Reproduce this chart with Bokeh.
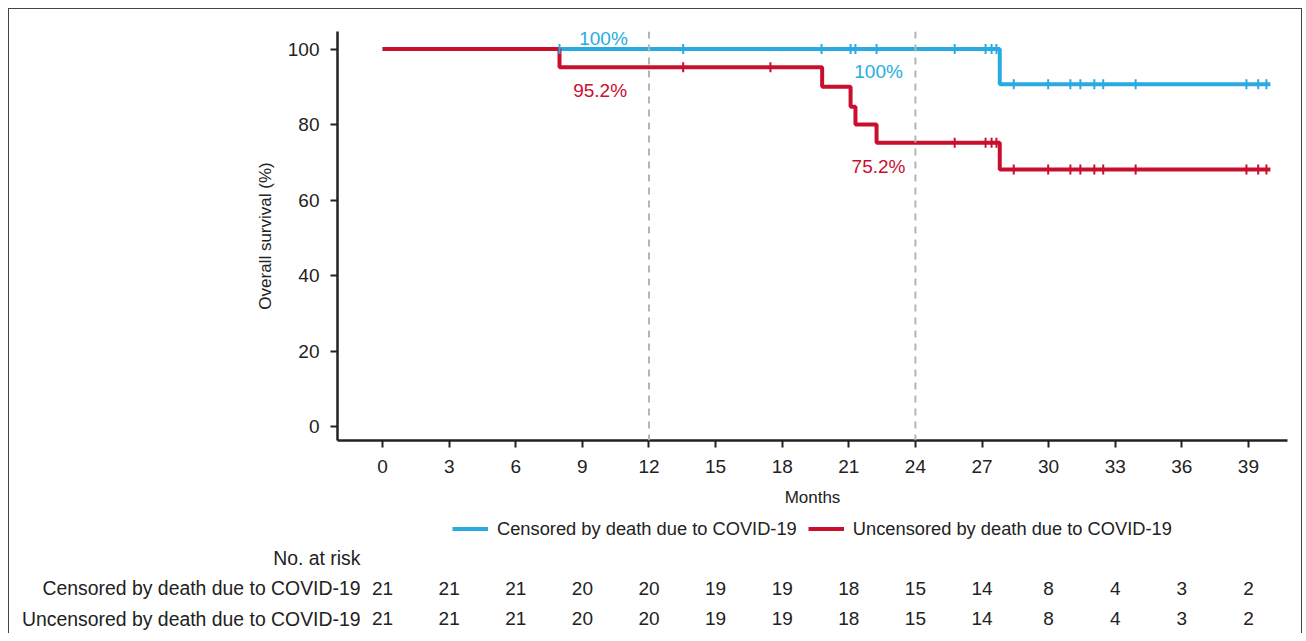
import math
from bokeh.plotting import figure
from bokeh.models import Range1d, Span, Legend, LegendItem, FixedTicker
from bokeh.layouts import column
from bokeh.core.properties import value
from bokeh.embed import file_html
from bokeh.resources import INLINE

# ---------------- data ----------------
month_ticks = [0, 3, 6, 9, 12, 15, 18, 21, 24, 27, 30, 33, 36, 39]
survival_ticks = [0, 20, 40, 60, 80, 100]
series_names = ["Censored by death due to COVID-19", "Uncensored by death due to COVID-19"]

censored_time = [0.0, 27.8, 39.99]
censored_surv = [100.0, 90.7, 90.7]
uncensored_time = [0.0, 7.97, 19.8, 21.08, 21.3, 22.25, 27.8, 39.99]
uncensored_surv = [100.0, 95.2, 90.0, 84.7, 80.0, 75.2, 68.1, 68.1]

censored_marks = [7.97, 13.54, 19.77, 21.08, 21.3, 22.25, 25.77, 27.16, 27.43, 27.65,
                  28.43, 29.98, 30.98, 31.43, 32.06, 32.46, 33.92, 38.91, 39.44, 39.81]
uncensored_marks = [13.54, 17.47, 25.77, 27.16, 27.43, 27.65,
                    28.43, 29.98, 30.98, 31.43, 32.06, 32.46, 33.92, 38.91, 39.44, 39.81]

landmark_months = [12, 24]
censored_ann_text = ["100%", "100%"]
censored_ann_x = [9.95, 22.34]
censored_ann_y = [102.7, 94.0]
uncensored_ann_text = ["95.2%", "75.2%"]
uncensored_ann_x = [9.8, 22.34]
uncensored_ann_y = [89.1, 68.8]

risk_header = "No. at risk"
risk_censored = [21, 21, 21, 20, 20, 19, 19, 18, 15, 14, 8, 4, 3, 2]
risk_uncensored = [21, 21, 21, 20, 20, 19, 19, 18, 15, 14, 8, 4, 3, 2]

# ---------------- style / layout ----------------
BLUE = "#29abe2"
RED = "#c8102e"
INK = "#222222"
FONT = "Liberation Sans"

W = 1292
H1, H2 = 505, 119
FRAME_L, FRAME_R, FRAME_T, FRAME_B = 328, 1278, 22, 431
X0, X1 = -2.03, 40.76
Y0, Y1 = -3.71, 104.65
ROW_PX = 30.5
HEADER_TOP_PX, ROW2_TOP_PX = 43, 104   # px from top of the table panel


def step_at(times, surv, t):
    v = surv[0]
    for ti, si in zip(times, surv):
        if ti <= t:
            v = si
    return v


p = figure(width=W, height=H1, output_backend="svg", toolbar_location=None,
           x_range=Range1d(X0, X1), y_range=Range1d(Y0, Y1),
           min_border_left=FRAME_L, min_border_right=W - FRAME_R,
           min_border_top=FRAME_T, min_border_bottom=H1 - FRAME_B)
p.outline_line_color = None
p.xgrid.grid_line_color = None
p.ygrid.grid_line_color = None

for ax in (p.xaxis[0], p.yaxis[0]):
    ax.axis_line_color = INK
    ax.axis_line_width = 2.5
    ax.major_tick_line_color = INK
    ax.major_tick_line_width = 2
    ax.major_tick_in = 0
    ax.major_tick_out = 7
    ax.minor_tick_line_color = None
    ax.major_label_text_font = FONT
    ax.major_label_text_font_size = "19px"
    ax.major_label_text_color = INK
    ax.axis_label_text_font = FONT
    ax.axis_label_text_font_size = "17px"
    ax.axis_label_text_font_style = "normal"
    ax.axis_label_text_color = INK

p.xaxis.ticker = FixedTicker(ticks=month_ticks)
p.yaxis.ticker = FixedTicker(ticks=survival_ticks)
p.xaxis.axis_label = "Months"
p.yaxis.axis_label = "Overall survival (%)"
p.xaxis.major_label_standoff = 12
p.xaxis.axis_label_standoff = 12
p.yaxis.major_label_standoff = 11
p.yaxis.axis_label_standoff = 10

for m in landmark_months:
    p.add_layout(Span(location=m, dimension="height", line_color="#b5b5b5",
                      line_width=2, line_dash="7 6"))

r_c = p.step(censored_time, censored_surv, mode="after", line_color=BLUE, line_width=4)
r_u = p.step(uncensored_time, uncensored_surv, mode="after", line_color=RED, line_width=4)

p.scatter(censored_marks, [step_at(censored_time, censored_surv, t) for t in censored_marks],
          marker="dash", angle=math.pi / 2, size=10, line_color=BLUE, line_width=2)
p.scatter(uncensored_marks, [step_at(uncensored_time, uncensored_surv, t) for t in uncensored_marks],
          marker="dash", angle=math.pi / 2, size=10, line_color=RED, line_width=2)

for xs, ys, ts, col in ((censored_ann_x, censored_ann_y, censored_ann_text, BLUE),
                        (uncensored_ann_x, uncensored_ann_y, uncensored_ann_text, RED)):
    p.text(x=xs, y=ys, text=ts, text_align="center", text_baseline="middle",
           text_font=value(FONT), text_font_size="19px", text_color=col)

# ---------------- legend + at-risk table ----------------
t = figure(width=W, height=H2, output_backend="svg", toolbar_location=None,
           x_range=p.x_range,
           y_range=Range1d(-(H2 - ROW2_TOP_PX) / ROW_PX, 2 + HEADER_TOP_PX / ROW_PX),
           x_axis_type=None,
           min_border_left=FRAME_L, min_border_right=W - FRAME_R,
           min_border_top=0, min_border_bottom=0)
t.outline_line_color = None
t.xgrid.grid_line_color = None
t.ygrid.grid_line_color = None

ya = t.yaxis[0]
ya.ticker = FixedTicker(ticks=[0, 1, 2])
ya.major_label_overrides = {0: series_names[1], 1: series_names[0], 2: risk_header}
ya.axis_line_color = None
ya.major_tick_line_color = None
ya.minor_tick_line_color = None
ya.major_tick_in = 0
ya.major_tick_out = 0
ya.major_label_standoff = -23
ya.major_label_text_font = FONT
ya.major_label_text_font_size = "19.4px"
ya.major_label_text_color = INK

t.text(x=month_ticks, y=[1] * len(month_ticks), text=[str(v) for v in risk_censored],
       text_align="center", text_baseline="middle",
       text_font=value(FONT), text_font_size="19px", text_color=INK)
t.text(x=month_ticks, y=[0] * len(month_ticks), text=[str(v) for v in risk_uncensored],
       text_align="center", text_baseline="middle",
       text_font=value(FONT), text_font_size="19px", text_color=INK)

# legend renderers: the same curves, drawn in the table panel (they fall outside its view)
k_c = t.step(censored_time, censored_surv, mode="after", line_color=BLUE, line_width=4)
k_u = t.step(uncensored_time, uncensored_surv, mode="after", line_color=RED, line_width=4)
legend = Legend(items=[LegendItem(label=series_names[0], renderers=[k_c]),
                       LegendItem(label=series_names[1], renderers=[k_u])],
                orientation="horizontal", location=(115, 93.5),
                label_text_font=FONT, label_text_font_size="18.3px", label_text_color=INK,
                glyph_width=36, glyph_height=21, label_height=21, label_standoff=9, spacing=11,
                padding=0, margin=0, border_line_color=None, background_fill_alpha=0)
t.add_layout(legend)

layout = column(p, t, styles={"margin-left": "8px", "margin-top": "8px",
                              "border-top": "1px solid #444", "border-left": "1px solid #444",
                              "border-right": "1px solid #444"})

open("out.html", "w").write(file_html(layout, INLINE))
